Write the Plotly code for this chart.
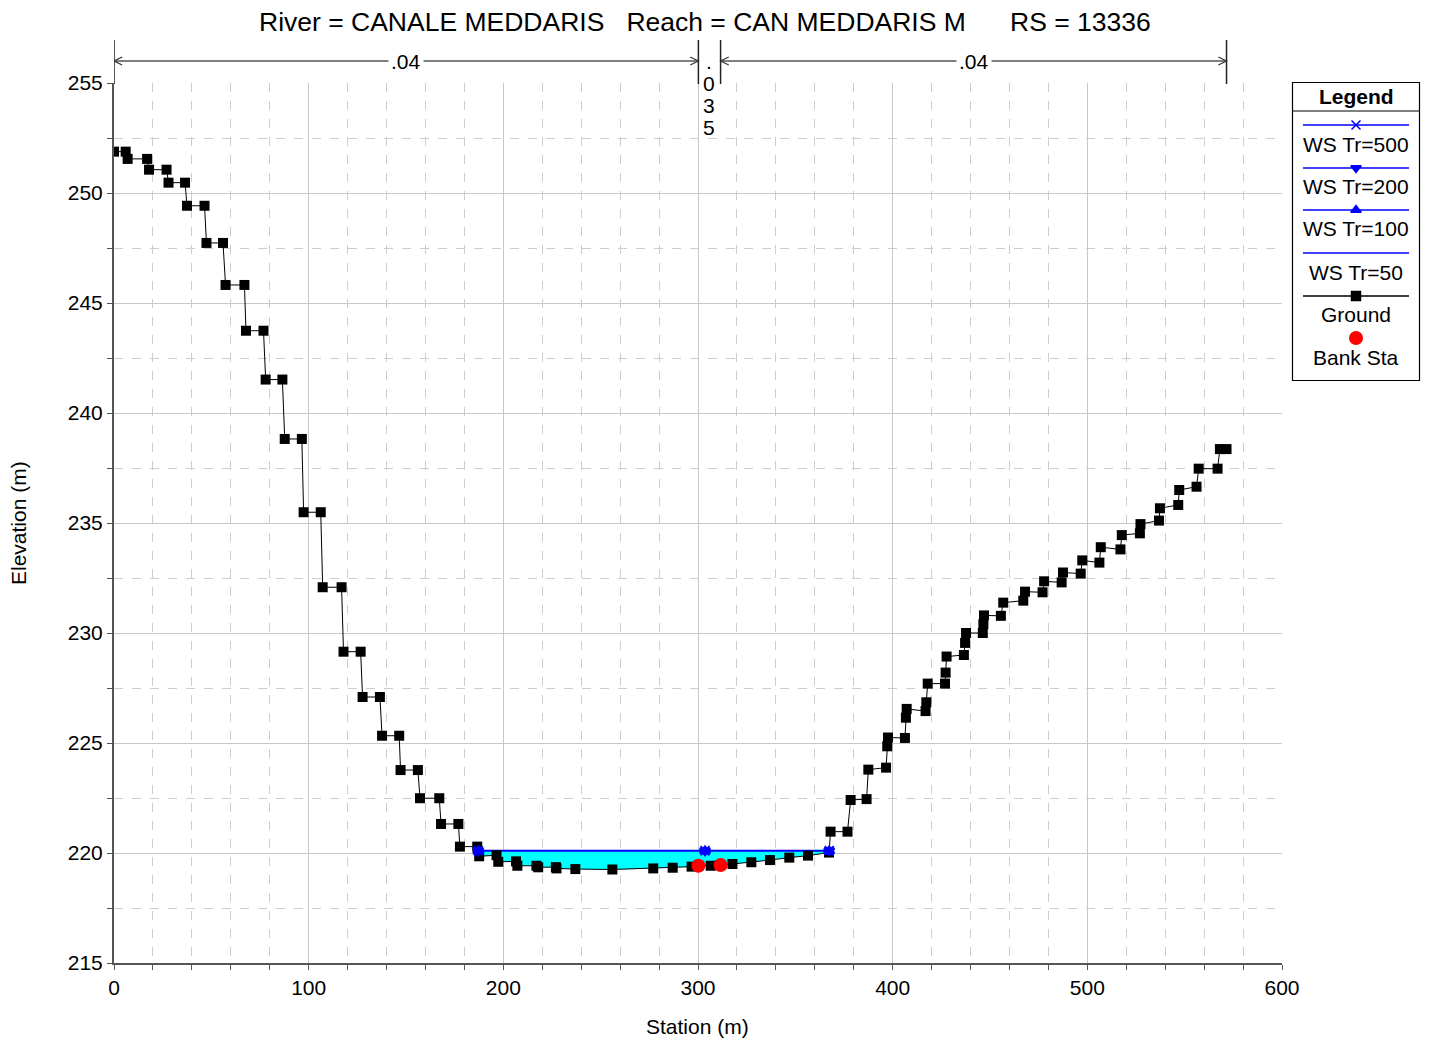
import plotly.graph_objects as go

title_text = "River = CANALE MEDDARIS   Reach = CAN MEDDARIS M      RS = 13336"

# cross section data (station m, elevation m)
ground_sta = [0, 6, 7, 17, 18, 27, 28, 36.5, 37.5, 46.5, 47.5, 56, 57.3, 67, 67.8, 76.8,
              77.9, 86.5, 87.7, 96.5, 97.4, 106.2, 107.2, 116.9, 117.9, 126.7, 127.7, 136.6,
              137.7, 146.5, 147.2, 156.1, 157.2, 167.1, 168, 176.9, 177.7, 186.6, 187.6, 196.5,
              197.4, 206.5, 207.2, 217, 217.9, 227, 227.3, 237, 256, 277, 287, 296.7,
              300.2, 306.5, 311.6, 317.7, 327.4, 337, 346.9, 356.5, 367.3, 368.1, 376.8,
              378.4, 386.6, 387.5, 396.6, 397.2, 397.6, 406.3, 406.8, 407.2, 416.9, 417.3,
              418, 426.9, 427.2, 427.7, 436.6, 437.2, 437.7, 446.3, 446.6, 446.9, 455.6,
              456.8, 467.1, 468, 477, 477.8, 486.8, 487.5, 496.6, 497.4, 506.2, 506.9, 517,
              517.7, 527, 527.3, 536.8, 537.3, 546.7, 547.2, 556.1, 557.2, 566.9, 568.1, 571.5]
ground_elev = [251.88, 251.88, 251.55, 251.55, 251.06, 251.06, 250.47, 250.47, 249.42, 249.42,
               247.73, 247.73, 245.82, 245.82, 243.74, 243.74, 241.52, 241.52, 238.82, 238.82,
               235.49, 235.49, 232.08, 232.08, 229.15, 229.15, 227.09, 227.09, 225.33, 225.33,
               223.77, 223.77, 222.49, 222.49, 221.32, 221.32, 220.29, 220.29, 219.85, 219.9,
               219.6, 219.62, 219.42, 219.42, 219.35, 219.36, 219.3, 219.27, 219.25, 219.3,
               219.33, 219.38, 219.42, 219.42, 219.45, 219.5, 219.58, 219.68, 219.79, 219.88,
               220.02, 220.97, 220.97, 222.41, 222.45, 223.79, 223.88, 224.85, 225.25, 225.23,
               226.15, 226.55, 226.45, 226.85, 227.7, 227.7, 228.2, 228.93, 229.0, 229.55,
               230.0, 230.0, 230.4, 230.8, 230.78, 231.38, 231.47, 231.88, 231.85, 232.35,
               232.3, 232.75, 232.7, 233.3, 233.2, 233.9, 233.8, 234.45, 234.53, 234.95,
               235.11, 235.67, 235.82, 236.5, 236.65, 237.47, 237.47, 238.36, 238.36]

bank_sta = [300.2, 311.6]
bank_elev = [219.42, 219.45]

ws_sta = [187.1, 303.6, 367.4]
ws_500 = [220.1, 220.1, 220.1]
ws_200 = [220.1, 220.1, 220.1]
ws_100 = [220.1, 220.1, 220.1]
ws_50 = [220.1, 220.1, 220.1]

mann_sta = [0, 300.2, 311.6, 571.5]
mann_n = [".04", ".035", ".04"]

legend_names = ["WS Tr=500", "WS Tr=200", "WS Tr=100", "WS Tr=50", "Ground", "Bank Sta"]

FONT = "Liberation Sans, Arial, sans-serif"
BLUE = "#0000ff"


# page pixel -> paper coords (page has an 8px body margin)
def px_x(px):
    return (px - 114) / 1306


def px_y(py):
    return (963 - py) / 880


def text_ann(x, y, text, size=21, **kw):
    d = dict(x=x, y=y, xref="paper", yref="paper", text=text, showarrow=False,
             xanchor="center", yanchor="middle",
             font=dict(family=FONT, size=size, color="black"))
    d.update(kw)
    return d


fig = go.Figure()

# water area between WS and ground
inside = [(s, e) for s, e in zip(ground_sta, ground_elev) if ws_sta[0] < s < ws_sta[-1]]
fill_x = [ws_sta[0]] + [s for s, _ in inside] + [ws_sta[-1], ws_sta[0]]
fill_y = [ws_50[0]] + [e for _, e in inside] + [ws_50[-1], ws_50[0]]
fig.add_trace(go.Scatter(x=fill_x, y=fill_y, fill="toself", fillcolor="#00ffff",
                         mode="lines", line=dict(width=0), hoverinfo="skip", showlegend=False))

fig.add_trace(go.Scatter(x=ws_sta, y=ws_50, mode="lines", line=dict(color=BLUE, width=2),
                         showlegend=False))

fig.add_trace(go.Scatter(x=ground_sta, y=ground_elev, mode="lines+markers",
                         line=dict(color="black", width=1),
                         marker=dict(symbol="square", size=10, color="black"),
                         showlegend=False))

for ws, sym in [(ws_100, "triangle-up"), (ws_200, "triangle-down"), (ws_500, "x-thin")]:
    fig.add_trace(go.Scatter(x=ws_sta, y=ws, mode="markers",
                             marker=dict(symbol=sym, size=9, color=BLUE,
                                         line=dict(color=BLUE, width=2)),
                             showlegend=False))

fig.add_trace(go.Scatter(x=bank_sta, y=bank_elev, mode="markers",
                         marker=dict(symbol="circle", size=14, color="#ff0000"),
                         showlegend=False))

# manning n bar above the plot
shapes = []
annotations = []
y_top, y_bot, y_arrow = px_y(40), px_y(84), px_y(61)
for s in mann_sta:
    shapes.append(dict(type="line", xref="x", yref="paper", x0=s, x1=s, y0=y_bot, y1=y_top,
                       line=dict(color="#222", width=1.5)))
dx, dy = 4.2, 4 / 880
for a, b, n in zip(mann_sta[:-1], mann_sta[1:], mann_n):
    if (b - a) * 1.9467 > 60:
        shapes.append(dict(type="line", xref="x", yref="paper", x0=a, x1=b, y0=y_arrow,
                           y1=y_arrow, line=dict(color="#555", width=1.5)))
        shapes.append(dict(type="path", xref="x", yref="paper",
                           path=f"M {a + dx} {y_arrow + dy} L {a} {y_arrow} L {a + dx} {y_arrow - dy}",
                           line=dict(color="#333", width=1.2)))
        shapes.append(dict(type="path", xref="x", yref="paper",
                           path=f"M {b - dx} {y_arrow + dy} L {b} {y_arrow} L {b - dx} {y_arrow - dy}",
                           line=dict(color="#333", width=1.2)))
        annotations.append(dict(x=(a + b) / 2, y=y_arrow, xref="x", yref="paper", text=n,
                                showarrow=False, bgcolor="white", borderpad=2,
                                xanchor="center", yanchor="middle",
                                font=dict(family=FONT, size=21, color="black")))
    else:
        for i, ch in enumerate(n):
            annotations.append(dict(x=(a + b) / 2, y=px_y(62 + 21.7 * i), xref="x", yref="paper",
                                    text=ch, showarrow=False, xanchor="center", yanchor="middle",
                                    font=dict(family=FONT, size=21, color="black")))

# title and axis titles
annotations.append(text_ann(px_x(705), px_y(22), title_text.replace(" ", "\u00a0"), size=26.5))
annotations.append(text_ann(px_x(697), px_y(1026), "Station (m)"))
annotations.append(text_ann(px_x(18), px_y(523), "Elevation (m)", textangle=-90))

# legend box
shapes.append(dict(type="rect", xref="paper", yref="paper", x0=px_x(1292.5), x1=px_x(1419.5),
                   y0=px_y(380.5), y1=px_y(82.5), line=dict(color="black", width=1.2),
                   fillcolor="white", layer="below"))
shapes.append(dict(type="line", xref="paper", yref="paper", x0=px_x(1292.5), x1=px_x(1419.5),
                   y0=px_y(111), y1=px_y(111), line=dict(color="black", width=1)))
annotations.append(text_ann(px_x(1356), px_y(96), "<b>Legend</b>"))

leg_line_y = [125, 168, 210, 253, 296]
leg_text_y = [144, 186, 228, 272, 314, 357]
leg_colors = [BLUE, BLUE, BLUE, BLUE, "black"]
leg_syms = ["x-thin", "triangle-down", "triangle-up", None, "square"]
for yy, col, sym in zip(leg_line_y, leg_colors, leg_syms):
    fig.add_trace(go.Scatter(x=[1303, 1409], y=[yy, yy], xaxis="x2", yaxis="y2", mode="lines",
                             line=dict(color=col, width=1.5), showlegend=False, hoverinfo="skip"))
    if sym:
        fig.add_trace(go.Scatter(x=[1356], y=[yy], xaxis="x2", yaxis="y2", mode="markers",
                                 marker=dict(symbol=sym, size=9, color=col,
                                             line=dict(color=col, width=1.5)),
                                 showlegend=False, hoverinfo="skip"))
fig.add_trace(go.Scatter(x=[1356], y=[338], xaxis="x2", yaxis="y2", mode="markers",
                         marker=dict(symbol="circle", size=14, color="#ff0000"),
                         showlegend=False, hoverinfo="skip"))
for yy, name in zip(leg_text_y, legend_names):
    annotations.append(text_ann(px_x(1356), px_y(yy), name))

axis_common = dict(showgrid=True, gridcolor="#c8c8c8", gridwidth=1, zeroline=False,
                   showline=True, linecolor="#555", linewidth=2, ticks="outside", ticklen=5,
                   tickcolor="#555", automargin=False,
                   tickfont=dict(family=FONT, size=21, color="black"))

fig.update_layout(
    width=1414, height=1032,
    margin=dict(l=106, r=2, t=75, b=77),
    plot_bgcolor="white", paper_bgcolor="white",
    showlegend=False,
    xaxis=dict(range=[0, 600], dtick=100, tick0=0, domain=[0, 1168 / 1306], ticklabelstandoff=0,
               minor=dict(dtick=20, ticks="outside", ticklen=5, tickcolor="#555", showgrid=True,
                          gridcolor="#cdcdcd", griddash="dash"),
               **axis_common),
    yaxis=dict(range=[215, 255], dtick=5, tick0=215,
               minor=dict(dtick=2.5, ticks="outside", ticklen=5, tickcolor="#555", showgrid=True,
                          gridcolor="#cdcdcd", griddash="dash"),
               **axis_common),
    xaxis2=dict(domain=[px_x(1292), 1.0], range=[1292, 1420], visible=False, anchor="y2",
                automargin=False),
    yaxis2=dict(domain=[px_y(381), 1.0], range=[381, 83], visible=False, anchor="x2",
                automargin=False),
    shapes=shapes,
    annotations=annotations,
)

fig.write_html("out.html")
